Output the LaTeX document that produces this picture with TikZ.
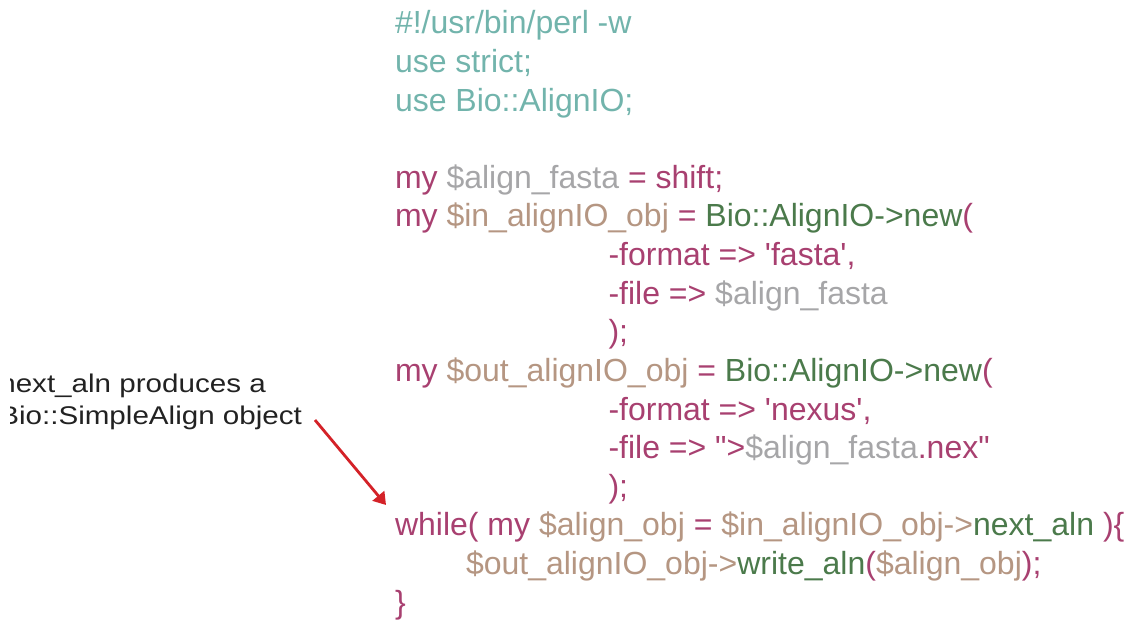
\documentclass[tikz,border=0pt]{standalone}
\usepackage{fontspec}
\setmainfont{Liberation Sans}[Ligatures=TeXOff]
\usetikzlibrary{arrows.meta}
\definecolor{cteal}{HTML}{72B4AC}
\definecolor{cmag}{HTML}{A84070}
\definecolor{ctan}{HTML}{B59682}
\definecolor{cgrn}{HTML}{4B7A4B}
\definecolor{cgry}{HTML}{A6A6A8}
\definecolor{cred}{HTML}{D42228}
\definecolor{cnote}{HTML}{222222}
\newcommand\kmag[1]{\textcolor{cmag}{#1}}
\newcommand\ktan[1]{\textcolor{ctan}{#1}}
\newcommand\kgrn[1]{\textcolor{cgrn}{#1}}
\newcommand\kgry[1]{\textcolor{cgry}{#1}}
\tikzset{
  codeline/.style={anchor=base west, inner sep=0pt, outer sep=0pt, font=\fontsize{32}{38}\selectfont},
  noteline/.style={anchor=base west, inner sep=0pt, outer sep=0pt, text=cnote, font=\fontsize{25.6}{30}\selectfont},
  pointer/.style={draw=cred, line width=2.8pt, -{Triangle[length=12pt,width=15pt]}}
}
\begin{document}
\begin{tikzpicture}[x=1pt,y=-1pt]
\useasboundingbox (0,0) rectangle (1137,620);
% code
\node[codeline, text=cteal] (l1) at (395,34) {\#!/usr/bin/perl -w};
\node[codeline, text=cteal] (l2) at (395,72.6) {use strict;};
\node[codeline, text=cteal] (l3) at (395,111.2) {use Bio::AlignIO;};
\node[codeline] (l5) at (395,188.4) {\kmag{my} \kgry{\$align\_fasta} \kmag{= shift;}};
\node[codeline] (l6) at (395,227) {\kmag{my} \ktan{\$in\_alignIO\_obj} \kmag{=} \kgrn{Bio::AlignIO->new}\kmag{(}};
\node[codeline] (l7) at (608.5,265.6) {\kmag{-format => 'fasta',}};
\node[codeline] (l8) at (608.5,304.2) {\kmag{-file =>} \kgry{\$align\_fasta}};
\node[codeline] (l9) at (608.5,342.8) {\kmag{);}};
\node[codeline] (l10) at (395,381.4) {\kmag{my} \ktan{\$out\_alignIO\_obj} \kmag{=} \kgrn{Bio::AlignIO->new}\kmag{(}};
\node[codeline] (l11) at (608.5,420) {\kmag{-format => 'nexus',}};
\node[codeline] (l12) at (608.5,458.6) {\kmag{-file => ">}\kgry{\$align\_fasta}\kmag{.nex"}};
\node[codeline] (l13) at (608.5,497.2) {\kmag{);}};
\node[codeline] (l14) at (395,535.8) {\kmag{while( my} \ktan{\$align\_obj} \kmag{=} \ktan{\$in\_alignIO\_obj->}\kgrn{next\_aln} \kmag{)\{}};
\node[codeline] (l15) at (466,574.4) {\ktan{\$out\_alignIO\_obj->}\kgrn{write\_aln}\kmag{(}\ktan{\$align\_obj}\kmag{);}};
\node[codeline] (l16) at (395,613) {\kmag{\}}};
% annotation
\begin{scope}
\clip (10,350) rectangle (390,445);
\node[noteline] (n1) at (-0.7,392) {\scalebox{1.156}[1]{next\_aln produces a}};
\node[noteline] (n2) at (-0.7,424.5) {\scalebox{1.156}[1]{Bio::SimpleAlign object}};
\end{scope}
\coordinate (astart) at (315,420);
\coordinate (atip) at (386,505);
\draw[pointer] (astart) -- (atip);
\end{tikzpicture}
\end{document}
